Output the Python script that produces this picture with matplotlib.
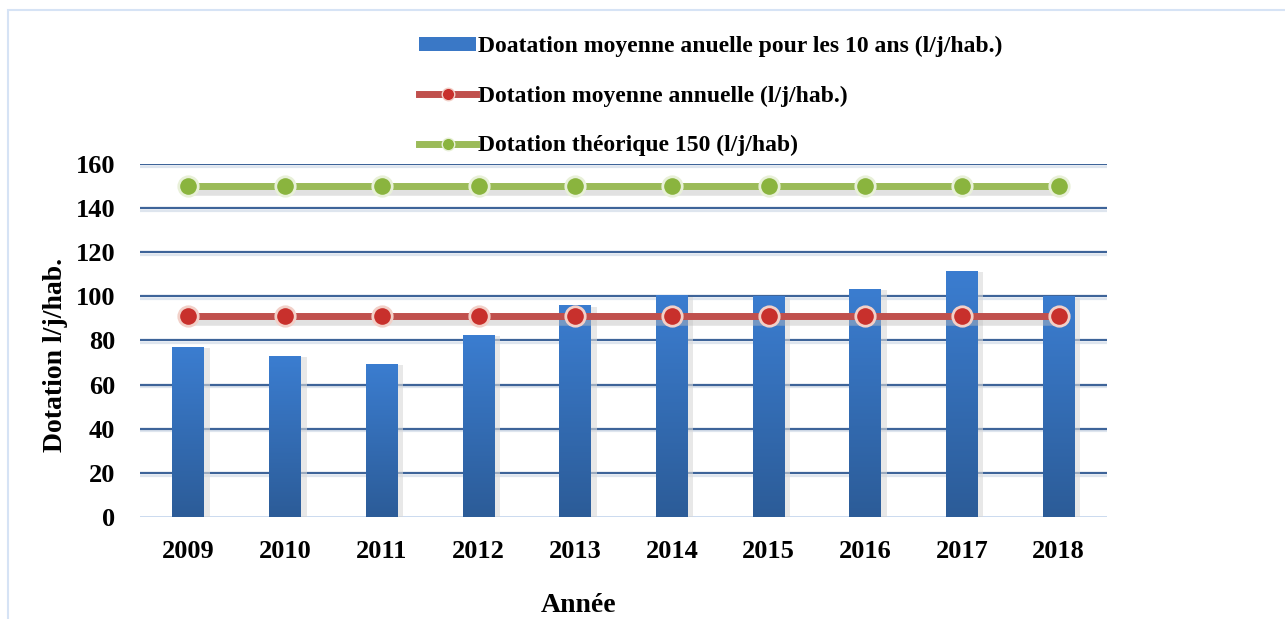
"""Dotation moyenne annuelle 2009-2018 (bars + reference lines)."""

import matplotlib
matplotlib.use("Agg")
import matplotlib.pyplot as plt
import matplotlib.patheffects as pe
from matplotlib.patches import Rectangle
from matplotlib.colors import LinearSegmentedColormap
from matplotlib.lines import Line2D
import numpy as np

years = ["2009", "2010", "2011", "2012", "2013", "2014", "2015", "2016", "2017", "2018"]
dotation = [77, 73, 69.5, 82.5, 96, 100.5, 100, 103.5, 111.5, 100]
moyenne = [91] * 10
theorique = [150] * 10

plt.rcParams["font.family"] = ["Liberation Serif", "DejaVu Serif"]
plt.rcParams["font.weight"] = "bold"

fig = plt.figure(figsize=(12.85, 6.19), dpi=100)
ax = fig.add_axes([0.109, 0.165, 0.7525, 0.57])

# light frame around the chart area
fig.add_artist(Rectangle((8 / 1285, -0.1), 1.2, 1 - 10 / 619 + 0.1,
                         transform=fig.transFigure, fill=False,
                         edgecolor="#d6e3f5", linewidth=1.5))

x = np.arange(len(years))
bars = ax.bar(x, dotation, width=0.33, color="#3a78c6", zorder=3,
              path_effects=[pe.SimplePatchShadow(offset=(4, -1), shadow_rgbFace="#d9d9d9", alpha=0.6),
                            pe.Normal()])

# vertical gradient on bars
grad = LinearSegmentedColormap.from_list("g", ["#2c5c98", "#3b7dd0"])
for b in bars:
    bx, by = b.get_x(), b.get_y()
    w, h = b.get_width(), b.get_height()
    im = ax.imshow(np.linspace(0, 1, 100).reshape(-1, 1), cmap=grad, aspect="auto",
                   extent=[bx, bx + w, by, by + h], origin="lower", zorder=3.5)
    im.set_clip_path(b)

for vals, lc, fc, ec in [(moyenne, "#c0504d", "#c8302c", "#f2d0c8"),
                         (theorique, "#9bbb59", "#8ab43e", "#e8f0d8")]:
    # soft shadow under the line
    ax.plot(x, vals, color="#bdbdbd", linewidth=9, alpha=0.45, zorder=4,
            transform=ax.transData + matplotlib.transforms.ScaledTranslation(
                0, -3 / 100, fig.dpi_scale_trans), solid_capstyle="round")
    ax.plot(x, vals, color=lc, linewidth=5, marker="o", markersize=14,
            markerfacecolor=fc, markeredgecolor=ec, markeredgewidth=2, zorder=5)

ax.set_xlim(-0.5, 9.5)
ax.set_ylim(0, 160)
ax.set_yticks(range(0, 161, 20))
ax.set_xticks(x)
ax.set_xticklabels(years)
ax.tick_params(length=0, labelsize=19)
ax.tick_params(axis="x", pad=17)
ax.tick_params(axis="y", pad=18)
for lab in ax.get_xticklabels() + ax.get_yticklabels():
    lab.set_fontweight("bold")

for v in range(20, 161, 20):
    ax.axhline(v, color="#3e6499", linewidth=1.6, zorder=1,
               path_effects=[pe.SimpleLineShadow(offset=(0, -2), shadow_color="#c8d4e4", alpha=0.6),
                             pe.Normal()])
ax.axhline(0, color="#c6d7ee", linewidth=2, zorder=2)
for s in ax.spines.values():
    s.set_visible(False)

ax.set_ylabel("Dotation l/j/hab.", fontsize=20, fontweight="bold")
ax.yaxis.set_label_coords(-0.075, 0.459)
fig.text(579 / 1285, 1 - 605 / 619, "Année", fontsize=20, fontweight="bold",
         ha="center", va="center")

handles = [
    Rectangle((0, 0), 1, 1, facecolor="#3a78c6"),
    Line2D([0], [0], color="#c0504d", linewidth=5, marker="o", markersize=9,
           markerfacecolor="#c8302c", markeredgecolor="#f2d0c8"),
    Line2D([0], [0], color="#9bbb59", linewidth=5, marker="o", markersize=9,
           markerfacecolor="#8ab43e", markeredgecolor="#e8f0d8"),
]
labels = ["Doatation moyenne anuelle pour les 10 ans (l/j/hab.)",
          "Dotation moyenne annuelle (l/j/hab.)",
          "Dotation théorique 150 (l/j/hab)"]
fig.legend(handles, labels, loc="upper left", bbox_to_anchor=(398 / 1285, 1 - 15 / 619),
           frameon=False, prop={"size": 17, "weight": "bold"}, handlelength=2.4,
           handleheight=0.55, handletextpad=0.1, labelspacing=1.2)

fig.savefig("out.png", dpi=100)
